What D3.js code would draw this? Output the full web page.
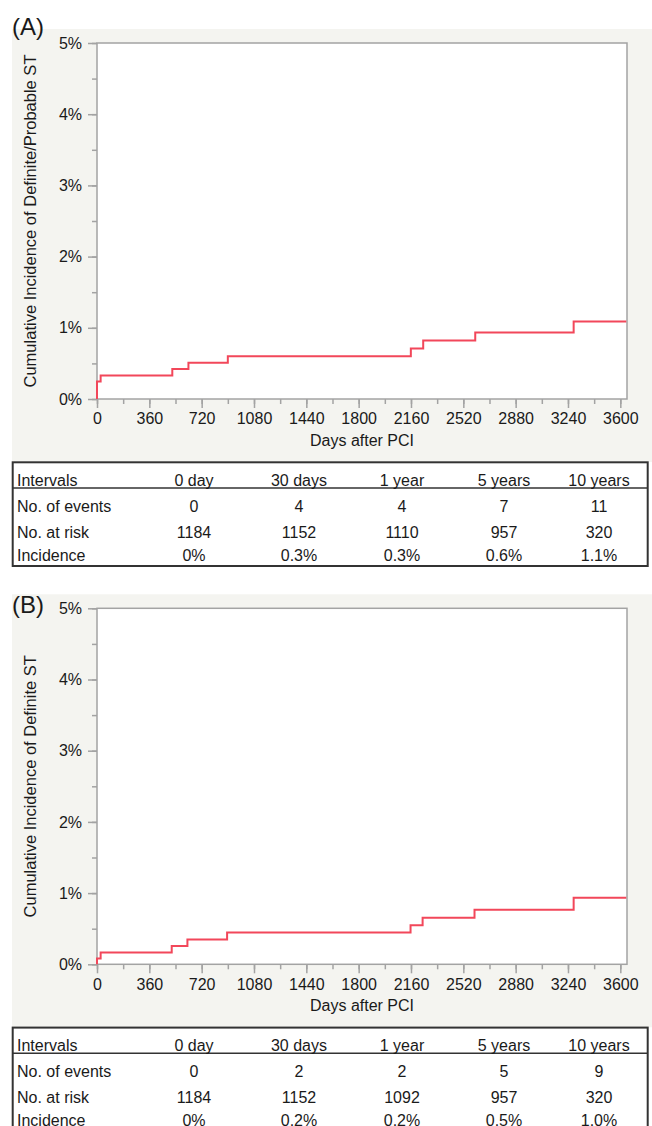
<!DOCTYPE html>
<html>
<head>
<meta charset="utf-8">
<script src="https://cdn.jsdelivr.net/npm/d3@7"></script>
<style>
  body { margin: 0; background: #fff; }
  svg { display: block; font-family: "Liberation Sans", Arial, Helvetica, sans-serif; }
</style>
</head>
<body>
<div id="chart"></div>
<script>
// Tick values
var xTicks = [0, 360, 720, 1080, 1440, 1800, 2160, 2520, 2880, 3240, 3600];
var xMinorTicks = d3.range(0, 3601, 180);
var yTicks = [0, 1, 2, 3, 4, 5];
var yMinorTicks = d3.range(0, 5.01, 0.5);

// Step curves: [days, cumulative incidence %]
var curveA = [[0, 0], [0, 0.245], [25, 0.33], [518, 0.42], [629, 0.51], [900, 0.60],
              [2159, 0.71], [2244, 0.82], [2602, 0.935], [3279, 1.09], [3641, 1.09]];
var curveB = [[0, 0], [0, 0.08], [25, 0.165], [514, 0.257], [622, 0.35], [895, 0.445],
              [2157, 0.547], [2240, 0.655], [2597, 0.767], [3279, 0.935], [3641, 0.935]];

// Tables
var columns = ['Intervals', '0 day', '30 days', '1 year', '5 years', '10 years'];
var rowLabels = ['No. of events', 'No. at risk', 'Incidence'];
var eventsA = ['0', '4', '4', '7', '11'];
var atRiskA = ['1184', '1152', '1110', '957', '320'];
var incidenceA = ['0%', '0.3%', '0.3%', '0.6%', '1.1%'];
var eventsB = ['0', '2', '2', '5', '9'];
var atRiskB = ['1184', '1152', '1092', '957', '320'];
var incidenceB = ['0%', '0.2%', '0.2%', '0.5%', '1.0%'];

var W = 652, H = 1126;
var svg = d3.select('#chart').append('svg').attr('width', W).attr('height', H);

var x = d3.scaleLinear().domain([0, 3646]).range([97, 627]);
var y = d3.scaleLinear().domain([0, 5]).range([399, 43]);
var gridColor = '#a3a3a3';
var textColor = '#1a1a1a';

function drawPanel(offset, tag, tagY, yLabel, curve, rows) {
    var g = svg.append('g').attr('transform', 'translate(0,' + offset + ')');

    // panel background
    g.append('rect').attr('x', 12).attr('y', 29).attr('width', 640).attr('height', 433)
        .attr('fill', '#f4f4f0');

    g.append('text').attr('x', 12).attr('y', tagY)
        .attr('font-size', 24).attr('fill', textColor).text(tag);

    // plot frame
    g.append('rect').attr('x', x(0)).attr('y', y(5))
        .attr('width', x.range()[1] - x(0)).attr('height', y(0) - y(5))
        .attr('fill', '#fff').attr('stroke', gridColor).attr('stroke-width', 1.5);

    // y axis
    var ya = g.append('g').attr('transform', 'translate(' + x(0) + ',0)');
    ya.call(d3.axisLeft(y).tickValues(yMinorTicks).tickSize(5).tickFormat(''));
    ya.call(function (s) {
        s.append('g').call(d3.axisLeft(y).tickValues(yTicks).tickSize(9).tickPadding(6)
            .tickFormat(function (d) { return d + '%'; }));
    });
    ya.selectAll('.domain').remove();
    ya.selectAll('line').attr('stroke', gridColor).attr('stroke-width', 1.5);
    ya.selectAll('text').attr('font-size', 16).attr('fill', textColor)
        .attr('font-family', '"Liberation Sans", Arial, sans-serif');

    // x axis
    var xa = g.append('g').attr('transform', 'translate(0,' + y(0) + ')');
    xa.call(d3.axisBottom(x).tickValues(xMinorTicks).tickSize(5).tickFormat(''));
    xa.call(function (s) {
        s.append('g').call(d3.axisBottom(x).tickValues(xTicks).tickSize(9).tickPadding(5)
            .tickFormat(d3.format('d')));
    });
    xa.selectAll('.domain').remove();
    xa.selectAll('line').attr('stroke', gridColor).attr('stroke-width', 1.5);
    xa.selectAll('text').attr('font-size', 16).attr('fill', textColor)
        .attr('font-family', '"Liberation Sans", Arial, sans-serif');

    g.append('text').attr('x', (x(0) + x.range()[1]) / 2).attr('y', 446)
        .attr('text-anchor', 'middle').attr('font-size', 16).attr('fill', textColor)
        .text('Days after PCI');

    g.append('text')
        .attr('transform', 'translate(36,' + ((y(0) + y(5)) / 2) + ') rotate(-90)')
        .attr('text-anchor', 'middle').attr('font-size', 16.5).attr('fill', textColor)
        .text(yLabel);

    // curve
    var line = d3.line()
        .x(function (d) { return x(d[0]); })
        .y(function (d) { return y(d[1]); })
        .curve(d3.curveStepAfter);
    g.append('path').datum(curve).attr('d', line)
        .attr('fill', 'none').attr('stroke', '#f2475a').attr('stroke-width', 2);

    // table
    var colX = [17, 194, 299, 402, 504, 599];
    var t = g.append('g');
    t.append('rect').attr('x', 12.7).attr('y', 462.3).attr('width', 635).attr('height', 103.7)
        .attr('fill', '#fff').attr('stroke', '#333').attr('stroke-width', 2);
    t.append('line').attr('x1', 12.7).attr('x2', 647.7).attr('y1', 488).attr('y2', 488)
        .attr('stroke', '#333').attr('stroke-width', 1.5);

    var allRows = [columns].concat(rows.map(function (r, i) { return [rowLabels[i]].concat(r); }));
    var baselines = [486, 512, 537.5, 561];
    allRows.forEach(function (r, ri) {
        t.selectAll(null).data(r).join('text')
            .attr('x', function (d, ci) { return colX[ci]; })
            .attr('y', baselines[ri])
            .attr('text-anchor', function (d, ci) { return ci === 0 ? 'start' : 'middle'; })
            .attr('font-size', 16).attr('fill', textColor)
            .text(function (d) { return d; });
    });
}

drawPanel(0, '(A)', 35, 'Cumulative Incidence of Definite/Probable ST', curveA,
    [eventsA, atRiskA, incidenceA]);
drawPanel(565.3, '(B)', 48, 'Cumulative Incidence of Definite ST', curveB,
    [eventsB, atRiskB, incidenceB]);
</script>
</body>
</html>
